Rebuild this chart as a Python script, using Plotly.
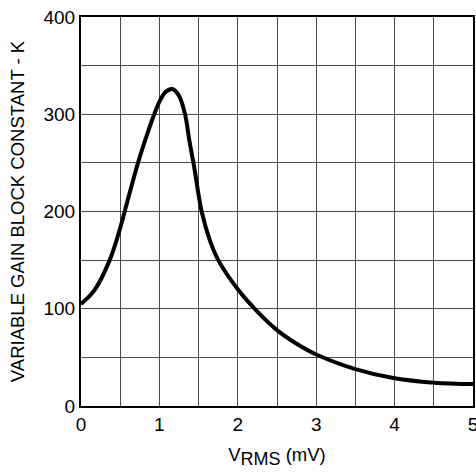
import plotly.graph_objects as go

v_rms = [0, 0.175, 0.366, 0.5, 0.557, 0.727, 0.838, 0.944, 1.0, 1.08, 1.165, 1.25, 1.327, 1.382, 1.441,
         1.539, 1.645, 1.751, 2.0, 2.25, 2.5, 2.75, 3.0, 3.5, 4.0, 4.5, 5.0]
k_const = [105, 119.5, 150, 183, 200, 250, 278, 302, 313, 323, 326, 319, 300, 273, 247,
           200, 170, 150, 120, 97, 78, 64, 53, 38, 28.5, 24, 22.5]

x_ticks = [0, 1, 2, 3, 4, 5]
y_ticks = [0, 100, 200, 300, 400]

font_family = "Liberation Sans, Arial, sans-serif"
grid_col = "#4a4a4a"

fig = go.Figure(go.Scatter(
    x=v_rms, y=k_const, mode="lines",
    line=dict(color="black", width=4, shape="spline", smoothing=1.0),
    showlegend=False, hoverinfo="skip",
))

axis_common = dict(
    showline=True, mirror=True, linecolor="black", linewidth=2,
    showgrid=True, gridcolor=grid_col, gridwidth=1.2,
    zeroline=False, ticks="", automargin=False, ticklabeloverflow="allow",
    tickfont=dict(family=font_family, size=19, color="black"),
)

fig.update_xaxes(
    range=[0, 5], tickvals=x_ticks,
    minor=dict(dtick=0.5, showgrid=True, gridcolor=grid_col, gridwidth=1.2, ticks=""),
    title=dict(text="V<sub><span style='font-size:18px'>RMS</span></sub> (mV)",
               font=dict(family=font_family, size=18.5, color="black"), standoff=14),
    **axis_common,
)
fig.update_yaxes(
    range=[0, 400], tickvals=y_ticks,
    minor=dict(dtick=50, showgrid=True, gridcolor=grid_col, gridwidth=1.2, ticks=""),
    title=dict(text="VARIABLE GAIN BLOCK CONSTANT - K", font=dict(family=font_family, size=18.5, color="black"), standoff=14),
    **axis_common,
)

fig.update_layout(
    width=476, height=472,
    margin=dict(l=81, r=3, t=17, b=66),
    plot_bgcolor="white", paper_bgcolor="white",
    font=dict(family=font_family, color="black"),
)

# remove the page's default body margin so the figure fills the window exactly
fig.write_html(
    "out.html",
    config={"displayModeBar": False},
    post_script="document.body.style.margin='0';document.documentElement.style.overflow='hidden';",
)
